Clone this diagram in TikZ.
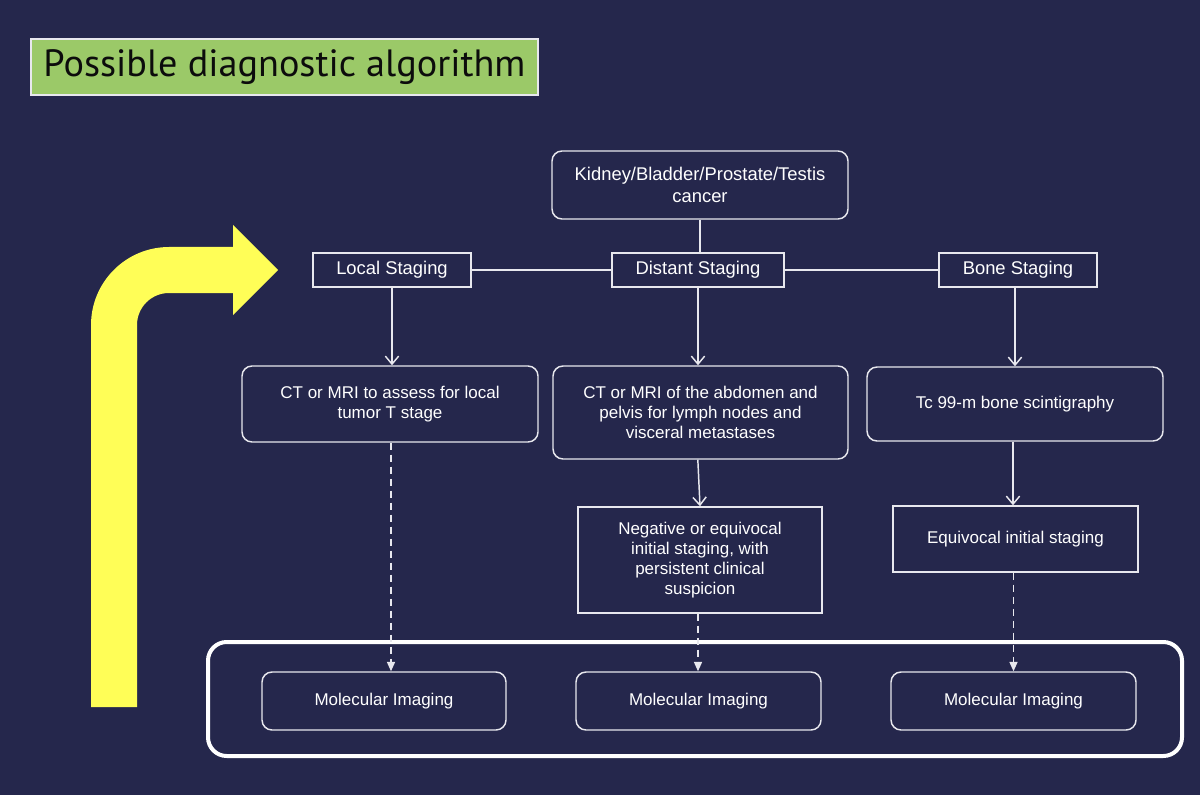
\documentclass[tikz,border=0pt]{standalone}
\usepackage{graphicx}
\usepackage{fontspec}
\setmainfont{Liberation Sans}
\newfontfamily\titlefont{PT Sans}
\usetikzlibrary{arrows.meta}
\definecolor{bg}{RGB}{37,39,76}
\definecolor{ttl}{RGB}{155,201,104}
\definecolor{yel}{RGB}{255,254,87}
\definecolor{ln}{RGB}{232,232,238}
\definecolor{ttltext}{RGB}{12,12,12}
\begin{document}
\begin{tikzpicture}[x=0.75pt,y=-0.75pt,
  box/.style={draw=ln, line width=1.1pt, text=white, align=center, inner sep=0pt,
    font=\fontsize{12.75pt}{15pt}\selectfont},
  rbox/.style={box, rounded corners=7.5pt},
  stg/.style={box, font=\fontsize{13.8pt}{16pt}\selectfont, minimum height=25.5pt},
  conn/.style={draw=ln, line width=1.1pt},
  arr/.style={conn, -{Straight Barb[length=6pt,width=10pt,line width=1.1pt]}},
  darr/.style={conn, dash pattern=on 5.5pt off 3.5pt, -{Triangle[length=7pt,width=6pt]}},
]
\useasboundingbox (0,0) rectangle (1200,795);
\fill[bg] (0,0) rectangle (1200,795);

% title
\node[draw=ln, line width=0.8pt, fill=ttl, text=ttltext, inner sep=0pt,
      minimum width=380.25pt, minimum height=42pt] (title) at (284.5,67)
  {\resizebox{361.5pt}{\height}{\titlefont\fontsize{28.5pt}{30pt}\selectfont Possible diagnostic algorithm}};

% yellow bent arrow
\fill[yel] (91,707) -- (91,325) .. controls (91,282) and (126,247) .. (169,247)
  -- (233,247) -- (233,225) -- (278,270) -- (233,315) -- (233,293) -- (169,293)
  .. controls (151.3,293) and (137,307.3) .. (137,325) -- (137,707) -- cycle;

% nodes
\node[rbox, minimum width=222pt, minimum height=51pt, font=\fontsize{13.8pt}{16.5pt}\selectfont] (top) at (700,185)
  {Kidney/Bladder/Prostate/Testis\\cancer};
\node[stg, minimum width=118.5pt] (local) at (392,270) {Local Staging};
\node[stg, minimum width=129pt] (distant) at (698,270) {Distant Staging};
\node[stg, minimum width=118.5pt] (bone) at (1018,270) {Bone Staging};

\node[rbox, minimum width=222pt, minimum height=57pt] (ct1) at (390,404)
  {CT or MRI to assess for local\\tumor T stage};
\node[rbox, minimum width=221.25pt, minimum height=69.75pt] (ct2) at (700.5,412.5)
  {CT or MRI of the abdomen and\\pelvis for lymph nodes and\\visceral metastases};
\node[rbox, minimum width=222pt, minimum height=55.5pt] (tc) at (1015,404)
  {Tc 99-m bone scintigraphy};

\node[box, minimum width=183pt, minimum height=79.5pt] (neg) at (700,560)
  {Negative or equivocal\\initial staging, with\\persistent clinical\\suspicion};
\node[box, minimum width=183.75pt, minimum height=49.5pt] (equiv) at (1015.5,539)
  {Equivocal initial staging};

\node[draw=white, line width=3pt, rounded corners=14pt, minimum width=730.5pt, minimum height=85.5pt, inner sep=0pt] (frame) at (695,699) {};

\node[rbox, minimum width=183pt, minimum height=43.5pt] (mol1) at (384,701) {Molecular Imaging};
\node[rbox, minimum width=183.75pt, minimum height=43.5pt] (mol2) at (698.5,701) {Molecular Imaging};
\node[rbox, minimum width=183.75pt, minimum height=43.5pt] (mol3) at (1013.5,701) {Molecular Imaging};

% connectors
\draw[conn] (top.south -| distant.north) ++(2,0) coordinate (tb) -- (tb |- distant.north);
\draw[conn] (local.east) -- (distant.west);
\draw[conn] (distant.east) -- (bone.west);
\draw[arr] (local.south) -- (local.south |- ct1.north);
\draw[arr] (distant.south) -- (distant.south |- ct2.north);
\draw[arr] ([xshift=-2.25pt]bone.south) -- ([xshift=-2.25pt]bone.south |- tc.north);
\draw[arr] ([xshift=-2pt]ct2.south) -- (neg.north);
\draw[arr] ([xshift=-1.5pt]tc.south) -- ([xshift=-1.5pt]tc.south |- equiv.north);
\draw[darr] ([xshift=0.75pt]ct1.south) -- ([xshift=0.75pt]ct1.south |- mol1.north);
\draw[darr] ([xshift=-1.5pt]neg.south) -- ([xshift=-1.5pt]neg.south |- mol2.north);
\draw[darr] ([xshift=-1.5pt]equiv.south) -- ([xshift=-1.5pt]equiv.south |- mol3.north);
\end{tikzpicture}
\end{document}
